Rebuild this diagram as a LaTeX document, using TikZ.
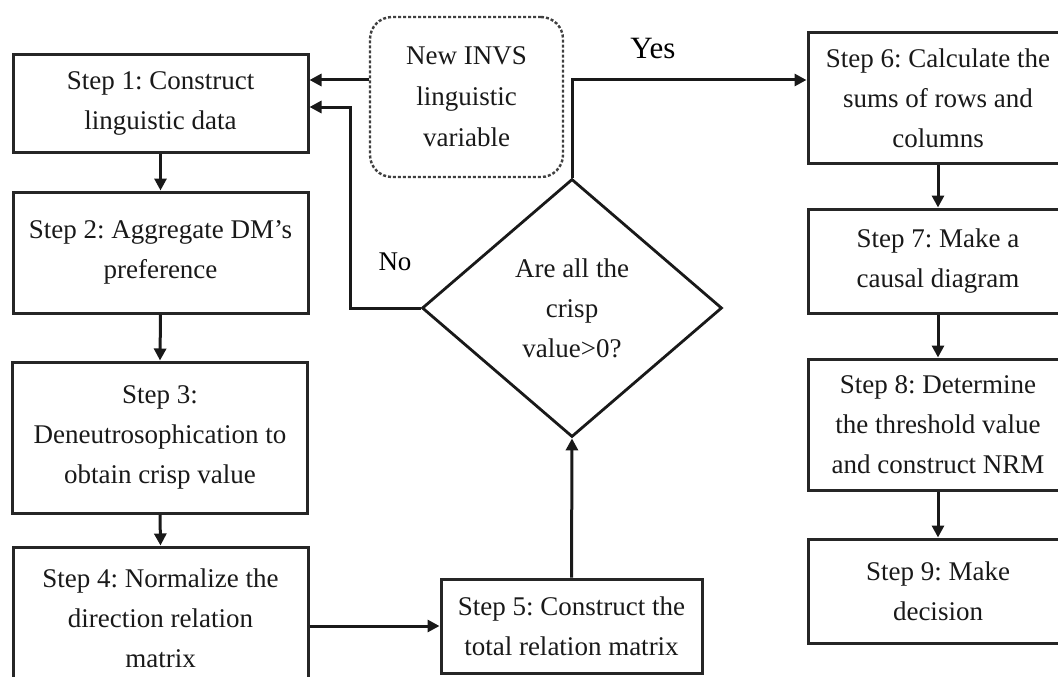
\documentclass[tikz,border=0pt]{standalone}
\usepackage{fontspec}
\setmainfont{Liberation Serif}
\frenchspacing
\usetikzlibrary{arrows.meta,shapes.geometric}
\tikzset{
  stepbox/.style={draw=black!85, line width=3pt, rectangle, inner sep=0pt, align=center,
    font=\fontsize{27}{40}\selectfont, text=black!90, minimum width=295pt},
  rightbox/.style={stepbox, minimum width=260pt},
  arr/.style={line width=3pt, draw=black!90, -{Triangle[length=12pt,width=12pt]}},
  lbl/.style={font=\fontsize{27}{30}\selectfont, inner sep=0pt}
}
\begin{document}
\begin{tikzpicture}[x=1pt,y=-1pt]
\useasboundingbox (0,0) rectangle (1058,677);
\clip (0,0) rectangle (1058,677);
% left column
\node[stepbox, minimum height=97pt] (s1) at (160.5,103.5) {Step 1: Construct\\linguistic data};
\node[stepbox, minimum height=121pt] (s2) at (160.5,252.5) {Step 2: Aggregate DM's\\preference};
\node[stepbox, minimum height=151pt] (s3) at (160,437.5) {Step 3:\\Deneutrosophication to\\obtain crisp value};
\node[stepbox, minimum height=143pt] (s4) at (160.5,618.5) {Step 4: Normalize the\\direction relation\\matrix};
% middle
\node[stepbox, minimum width=261pt, minimum height=94pt] (s5) at (571.5,626) {Step 5: Construct the\\total relation matrix};
\node[draw=black!75, line width=2.4pt, dash pattern=on 3pt off 2pt, rounded corners=22pt,
  minimum width=193pt, minimum height=160pt, align=center, inner sep=0pt, text=black!90,
  font=\fontsize{27}{41}\selectfont] (nv) at (466.5,97) {New INVS\\linguistic\\variable};
\node[draw=black!90, line width=2.8pt, diamond, minimum width=300pt, minimum height=258pt,
  inner sep=0pt, align=center, text=black!90, font=\fontsize{27}{40}\selectfont] (dm) at (572,308)
  {Are all the\\crisp\\value>0?};
% right column
\node[rightbox, minimum height=130pt] (s6) at (938,98) {Step 6: Calculate the\\sums of rows and\\columns};
\node[rightbox, minimum height=104pt] (s7) at (938,261) {Step 7: Make a\\causal diagram};
\node[rightbox, minimum height=131pt] (s8) at (938,424.5) {Step 8: Determine\\the threshold value\\and construct NRM};
\node[rightbox, minimum height=104pt] (s9) at (938,591) {Step 9: Make\\decision};
% labels
\node[lbl] (no) at (395,262) {No};
\node[lbl, font=\fontsize{31}{34}\selectfont] (yes) at (653,49) {Yes};
% helper coordinates
\coordinate (yA) at (0,80);
\coordinate (nocorner) at (350,107);
% connectors
\draw[arr] (s1.south) -- (s2.north);
\draw[arr] (s2.south) -- (s3.north);
\draw[arr] (s3.south) -- (s4.north);
\draw[arr] (s4.east |- s5.west) -- (s5.west);
\draw[arr] (s5.north) -- (dm.south);
\draw[arr] (nv.west |- yA) -- (s1.east |- yA);
\draw[arr] (dm.west) -| (nocorner) -- (s1.east |- nocorner);
\draw[arr] (dm.north) |- (s6.west |- yA);
\draw[arr] (s6.south) -- (s7.north);
\draw[arr] (s7.south) -- (s8.north);
\draw[arr] (s8.south) -- (s9.north);
\end{tikzpicture}
\end{document}
